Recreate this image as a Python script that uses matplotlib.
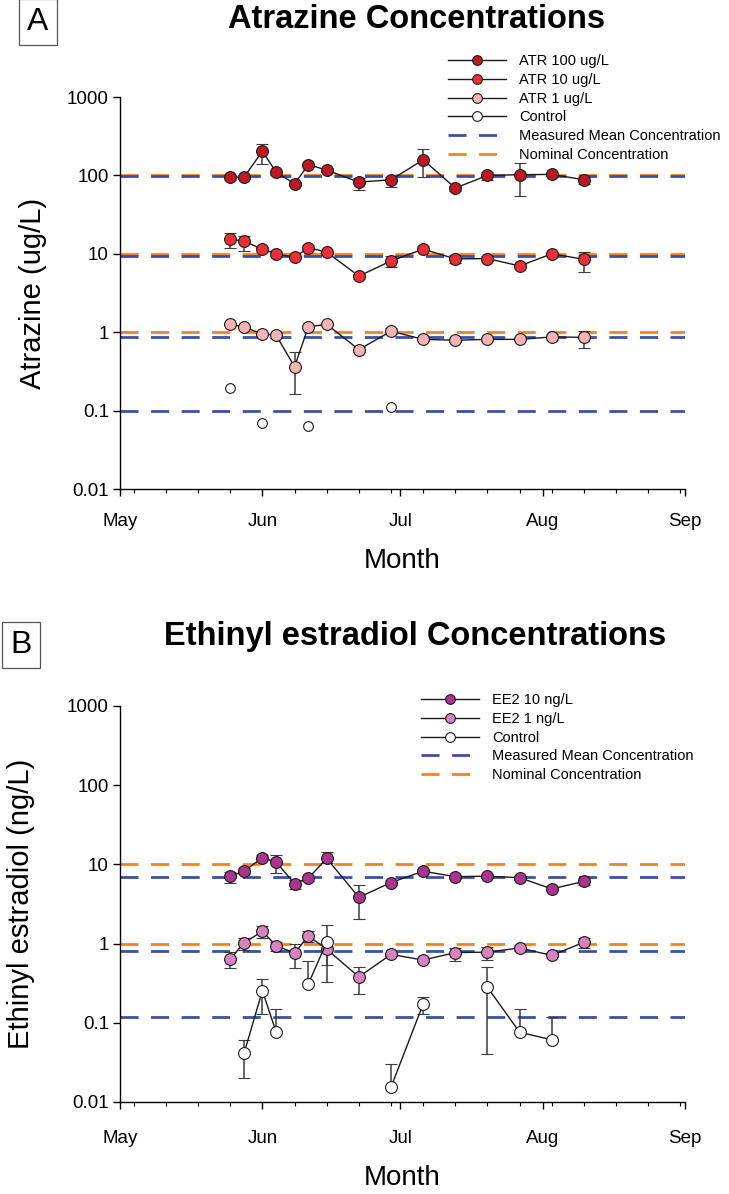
import numpy as np
import pandas as pd
import matplotlib
matplotlib.use('Agg')
import matplotlib.pyplot as plt
import matplotlib.dates as mdates
from matplotlib.lines import Line2D

plt.rcParams['font.family'] = ['Liberation Sans', 'DejaVu Sans']

# sampling dates (same for both panels)
dates = pd.to_datetime(['2014-05-25', '2014-05-28', '2014-06-01', '2014-06-04', '2014-06-08',
                        '2014-06-11', '2014-06-15', '2014-06-22', '2014-06-29', '2014-07-06',
                        '2014-07-13', '2014-07-20', '2014-07-27', '2014-08-03', '2014-08-10'])
nan = np.nan

# panel A - atrazine (ug/L), values with lower / upper error bounds
atr100 = [95, 95, 203, 110, 78, 137, 117, 82, 88, 158, 69, 100, 102, 103, 88]
atr100_lo = [88, 90, 138, 100, 74, 130, 110, 66, 72, 95, 64, 88, 55, 98, 77]
atr100_hi = [100, 100, 255, 115, 82, 145, 123, 92, 95, 215, 73, 112, 144, 108, 95]

atr10 = [15.4, 14.5, 11.4, 10, 9, 12, 10.5, 5.2, 8.1, 11.5, 8.6, 8.7, 7.0, 10, 8.5]
atr10_lo = [11.8, 11, 10.5, 9.4, 8.6, 11.3, 10, 4.8, 6.7, 10.8, 7.6, 8.2, 6.5, 9.5, 5.9]
atr10_hi = [18.4, 17, 12.3, 10.8, 9.5, 12.8, 11, 5.6, 9.5, 12.5, 9.6, 9.3, 7.5, 10.6, 10.4]

atr1 = [1.26, 1.16, 0.95, 0.91, 0.363, 1.17, 1.26, 0.60, 1.03, 0.81, 0.79, 0.81, 0.81, 0.87, 0.86]
atr1_lo = [1.22, 1.12, 0.92, 0.85, 0.162, 1.13, 1.22, 0.56, 0.96, 0.78, 0.74, 0.78, 0.79, 0.80, 0.63]
atr1_hi = [1.30, 1.20, 0.98, 0.97, 0.56, 1.21, 1.30, 0.64, 1.12, 0.84, 0.84, 0.84, 0.83, 0.95, 1.05]

ctrlA = [0.193, nan, 0.069, nan, nan, 0.063, nan, nan, 0.111, nan, nan, nan, nan, nan, nan]

measA = [98, 9.4, 0.86, 0.1]
nomA = [100, 10, 1]

# panel B - ethinyl estradiol (ng/L)
ee10 = [7.06, 8.24, 12.1, 10.7, 5.7, 6.7, 11.9, 3.84, 5.9, 8.2, 7.0, 7.1, 6.8, 4.9, 6.1]
ee10_lo = [5.9, 7.5, 11.3, 7.8, 4.9, 6.2, 10.5, 2.05, 5.5, 7.6, 6.6, 6.7, 6.4, 4.6, 5.5]
ee10_hi = [8.1, 9.0, 13.0, 13.2, 6.3, 7.2, 14.2, 5.5, 6.3, 8.8, 7.4, 7.5, 7.2, 5.2, 6.7]

ee1 = [0.64, 1.02, 1.43, 0.94, 0.76, 1.25, 0.85, 0.38, 0.73, 0.62, 0.77, 0.78, 0.88, 0.71, 1.04]
ee1_lo = [0.49, 0.82, 1.16, 0.81, 0.49, 1.05, 0.54, 0.23, 0.70, 0.58, 0.60, 0.62, 0.80, 0.67, 0.87]
ee1_hi = [0.78, 1.19, 1.67, 1.06, 1.0, 1.43, 1.1, 0.51, 0.77, 0.66, 0.88, 0.91, 0.96, 0.75, 1.19]

ctrlB = [nan, 0.041, 0.255, 0.076, nan, 0.31, 1.04, nan, 0.0154, 0.173, nan, 0.28, 0.076, 0.061, nan]
ctrlB_lo = [nan, 0.020, 0.13, 0.076, nan, 0.31, 0.33, nan, 0.0154, 0.13, nan, 0.04, 0.076, 0.061, nan]
ctrlB_hi = [nan, 0.060, 0.36, 0.149, nan, 0.61, 1.73, nan, 0.030, 0.21, nan, 0.51, 0.15, 0.12, nan]

measB = [7.0, 0.80, 0.12]
nomB = [10, 1]

BLUE = '#3a50a6'
ORANGE = '#f5821f'
EDGE = '#1a1a1a'
DASH = (6.5, 4.5)


def series(ax, y, lo, hi, color, ms=8.5):
    y = np.array(y, dtype=float)
    err = [y - np.array(lo, dtype=float), np.array(hi, dtype=float) - y]
    ax.errorbar(dates, y, yerr=err, fmt='-o', color=EDGE, lw=1, mfc=color, mec=EDGE,
                mew=0.8, ms=ms, ecolor='#3c3c3c', elinewidth=1.1, capsize=4.5,
                capthick=1.1, zorder=3)


def setup(ax, ylabel, ylab_x, xpad):
    ax.set_yscale('log')
    ax.set_ylim(0.01, 1000)
    ax.set_xlim(pd.Timestamp('2014-05-01'), pd.Timestamp('2014-09-01'))
    ax.yaxis.set_major_locator(matplotlib.ticker.FixedLocator([0.01, 0.1, 1, 10, 100, 1000]))
    ax.yaxis.set_major_formatter(matplotlib.ticker.FixedFormatter(['0.01', '0.1', '1', '10', '100', '1000']))
    ax.yaxis.set_minor_locator(matplotlib.ticker.NullLocator())
    ax.xaxis.set_major_locator(mdates.MonthLocator())
    ax.xaxis.set_major_formatter(mdates.DateFormatter('%b'))
    ax.xaxis.set_minor_locator(mdates.WeekdayLocator(byweekday=mdates.SU))
    for s in ['top', 'right']:
        ax.spines[s].set_visible(False)
    for s in ['left', 'bottom']:
        ax.spines[s].set_linewidth(1)
    ax.tick_params(which='major', length=5, width=1, labelsize=13.5)
    ax.tick_params(axis='y', pad=3)
    ax.tick_params(axis='x', which='major', pad=xpad)
    ax.tick_params(which='minor', length=3, width=0.8)
    ax.set_xlabel('Month', fontsize=20, labelpad=13)
    ax.set_ylabel(ylabel, fontsize=21)
    ax.yaxis.set_label_coords(ylab_x, 0.5)


def hlines(ax, meas, nom):
    for v in nom:
        ax.axhline(v, color=ORANGE, lw=2, dashes=DASH, zorder=1)
    for v in meas:
        ax.axhline(v, color=BLUE, lw=2, dashes=DASH, zorder=1)


def handle(color, ms=7):
    return Line2D([], [], color=EDGE, lw=1, marker='o', mfc=color, mec=EDGE, mew=0.8, ms=ms)


def legend(ax, handles, labels, x, y):
    ax.legend(handles, labels, loc='upper left', bbox_to_anchor=(x / W, 1 - y / H),
              bbox_transform=fig.transFigure, frameon=False, fontsize=10.5,
              handlelength=4.0, handletextpad=0.9, labelspacing=0.33,
              borderpad=0, borderaxespad=0)


fig = plt.figure(figsize=(7.29, 11.94), dpi=100)
W, H = 729, 1194

# ---------------- panel A
axA = fig.add_axes([120 / W, 1 - 489 / H, 565 / W, 392 / H])
hlines(axA, measA, nomA)
series(axA, atr100, atr100_lo, atr100_hi, '#bb1a22')
series(axA, atr10, atr10_lo, atr10_hi, '#ec2f36')
series(axA, atr1, atr1_lo, atr1_hi, '#f6b3b3')
axA.plot(dates, ctrlA, '-o', color=EDGE, lw=1, mfc='white', mec=EDGE, mew=0.8, ms=7, zorder=3)
setup(axA, 'Atrazine (ug/L)', -0.130, 12)

hA = [handle('#bb1a22'), handle('#ec2f36'), handle('#f6b3b3'), handle('white'),
      Line2D([], [], color=BLUE, lw=2, dashes=DASH),
      Line2D([], [], color=ORANGE, lw=2, dashes=DASH)]
lA = ['ATR 100 ug/L', 'ATR 10 ug/L', 'ATR 1 ug/L', 'Control',
      'Measured Mean Concentration', 'Nominal Concentration']
legend(axA, hA, lA, 448, 54)

fig.text(417 / W, 1 - 20 / H, 'Atrazine Concentrations', fontsize=23.5, fontweight='bold',
         ha='center', va='center')
fig.text(38 / W, 1 - 22 / H, 'A', fontsize=23, ha='center', va='center',
         bbox=dict(boxstyle='square,pad=0.26', fc='white', ec='#555555', lw=0.9))

# ---------------- panel B
axB = fig.add_axes([120 / W, 1 - 1102 / H, 565 / W, 396 / H])
hlines(axB, measB, nomB)
series(axB, ee10, ee10_lo, ee10_hi, '#a93591')
series(axB, ee1, ee1_lo, ee1_hi, '#d783c0')
series(axB, ctrlB, ctrlB_lo, ctrlB_hi, 'white')
setup(axB, 'Ethinyl estradiol (ng/L)', -0.150, 15)

hB = [handle('#a93591'), handle('#d783c0'), handle('white'),
      Line2D([], [], color=BLUE, lw=2, dashes=DASH),
      Line2D([], [], color=ORANGE, lw=2, dashes=DASH)]
lB = ['EE2 10 ng/L', 'EE2 1 ng/L', 'Control',
      'Measured Mean Concentration', 'Nominal Concentration']
legend(axB, hB, lB, 421, 693)

fig.text(415 / W, 1 - 637 / H, 'Ethinyl estradiol Concentrations', fontsize=23.5,
         fontweight='bold', ha='center', va='center')
fig.text(21 / W, 1 - 645 / H, 'B', fontsize=23, ha='center', va='center',
         bbox=dict(boxstyle='square,pad=0.26', fc='white', ec='#555555', lw=0.9))

fig.savefig('out.png', dpi=100)
